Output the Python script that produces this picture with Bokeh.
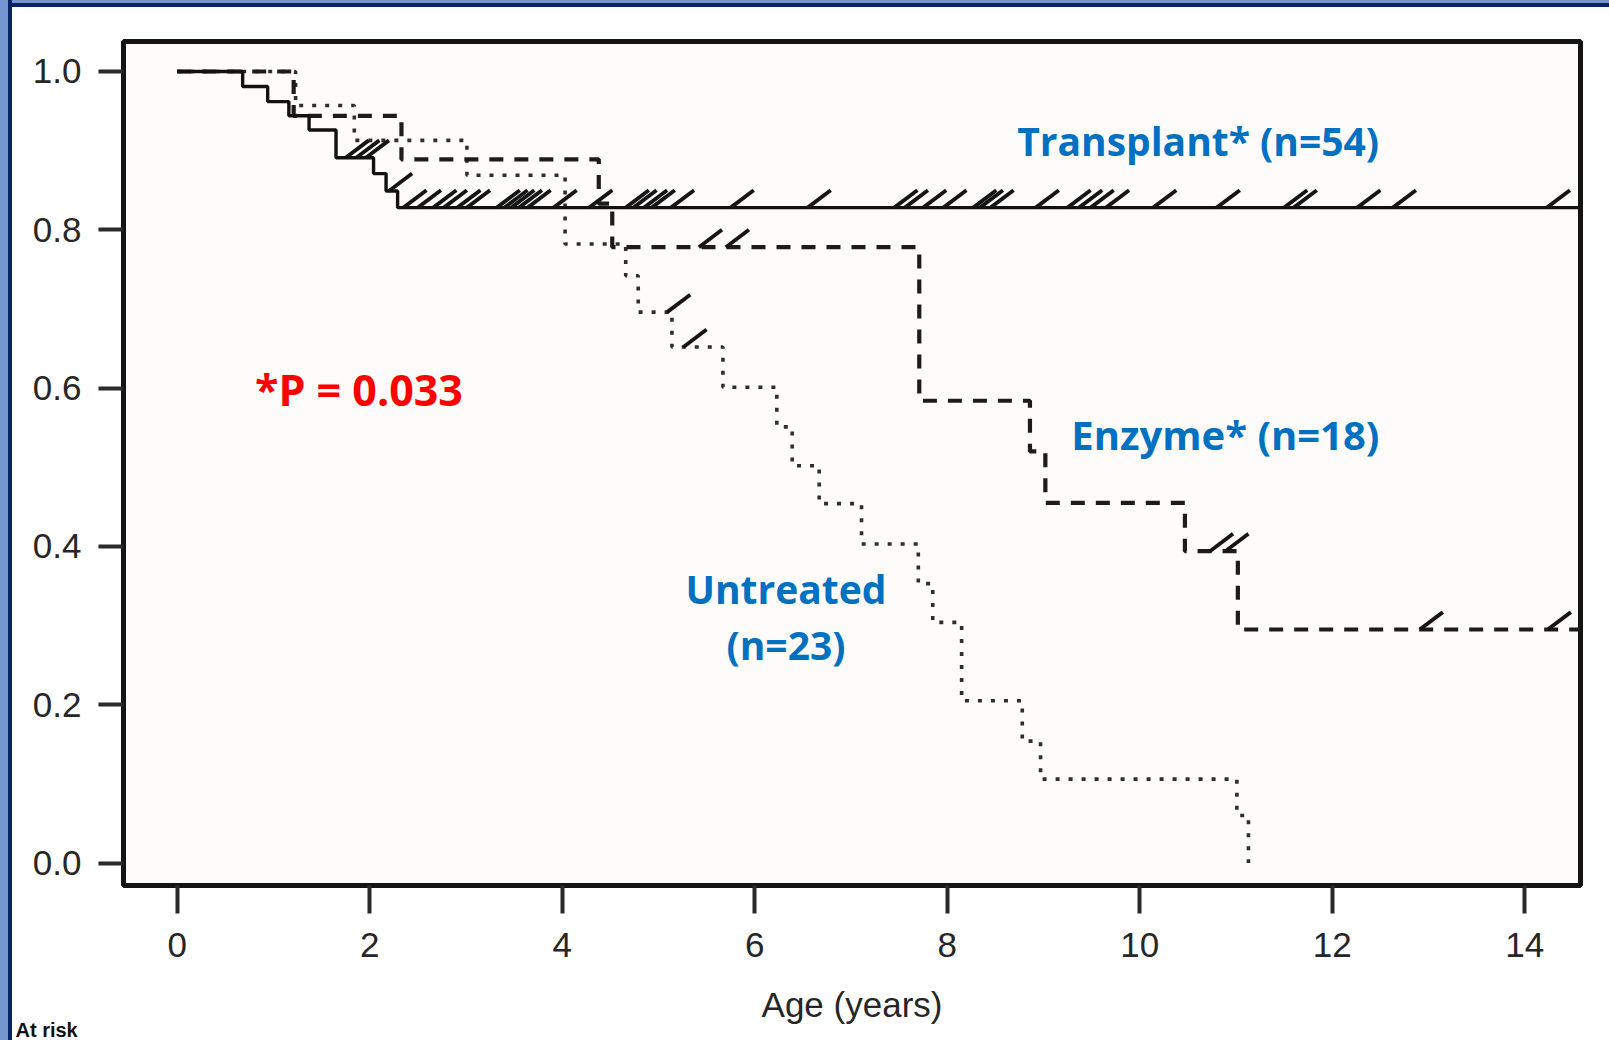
import numpy as np
from bokeh.plotting import figure
from bokeh.models import (Range1d, FixedTicker, Label, Title, InlineStyleSheet,
                          PrintfTickFormatter)
from bokeh.embed import file_html
from bokeh.resources import INLINE

# ---------------- data ----------------
x_ticks = [0, 2, 4, 6, 8, 10, 12, 14]
y_ticks = [0.0, 0.2, 0.4, 0.6, 0.8, 1.0]

transplant_t = [0, 0.68, 0.94, 1.16, 1.37, 1.65, 2.04, 2.17, 2.29, 14.6]
transplant_s = [1.0, 0.981, 0.962, 0.944, 0.926, 0.891, 0.871, 0.849, 0.828, 0.828]
transplant_cens = [1.75, 1.86, 1.96, 2.20, 2.35, 2.50, 2.66, 2.77, 2.91, 3.01,
                   3.32, 3.40, 3.47, 3.55, 3.64, 3.91, 4.28, 4.66, 4.74, 4.85,
                   4.93, 5.13, 5.75, 6.55, 7.45, 7.56, 7.75, 7.96, 8.27, 8.34,
                   8.45, 8.92, 9.25, 9.37, 9.49, 9.65, 10.14, 10.80, 11.50, 11.60,
                   12.26, 12.63, 14.23]

enzyme_t = [0, 1.21, 2.33, 4.38, 4.52, 7.71, 8.86, 9.02, 10.47, 11.02, 14.6]
enzyme_s = [1.0, 0.944, 0.889, 0.833, 0.778, 0.584, 0.520, 0.455, 0.394, 0.295, 0.295]
enzyme_cens = [5.42, 5.70, 10.73, 10.89, 12.91, 14.24]

untreated_t = [0, 1.23, 1.84, 3.01, 4.03, 4.66, 4.79, 5.14, 5.67, 6.23, 6.39,
               6.67, 7.11, 7.70, 7.85, 8.15, 8.78, 8.97, 11.01, 11.13]
untreated_s = [1.0, 0.957, 0.913, 0.869, 0.782, 0.742, 0.696, 0.652, 0.601, 0.551,
               0.502, 0.454, 0.403, 0.353, 0.304, 0.205, 0.154, 0.106, 0.06, 0.0]
untreated_cens = [5.09, 5.26]

group_labels = ["Transplant* (n=54)", "Enzyme* (n=18)", "Untreated", "(n=23)"]
p_value_text = "*P = 0.033"
x_title = "Age (years)"
at_risk_text = "At risk"

# ---------------- figure ----------------
p = figure(width=1609, height=1040, output_backend="svg", toolbar_location=None,
           x_range=Range1d(-0.558, 14.58), y_range=Range1d(-0.0284, 1.0379),
           min_border_left=123, min_border_right=29, min_border_top=41,
           min_border_bottom=155,
           background_fill_color="#fdfcfa", border_fill_color="#ffffff",
           border_fill_alpha=0.0)

p.stylesheets = [InlineStyleSheet(css=""":host {
  background:
    linear-gradient(to right, #7696d2 0px, #7696d2 8px, #0a2364 8px, #0a2364 12px, rgba(0,0,0,0) 12px),
    linear-gradient(to bottom, #7696d2 0px, #7696d2 3px, #0a2364 3px, #0a2364 7px, #ffffff 7px);
}""")]

p.grid.visible = False
p.outline_line_color = "#141414"
p.outline_line_width = 5

for ax in (p.xaxis, p.yaxis):
    ax.axis_line_color = None
    ax.minor_tick_line_color = None
    ax.major_tick_in = 0
    ax.major_tick_line_width = 4
    ax.major_tick_line_color = "#2a2a2a"
    ax.major_label_text_font = "Liberation Sans"
    ax.major_label_text_font_size = "35px"
    ax.major_label_text_color = "#262626"

p.xaxis.ticker = FixedTicker(ticks=x_ticks)
p.xaxis.major_tick_out = 28
p.xaxis.major_label_standoff = 19
p.xaxis.axis_label = x_title
p.xaxis.axis_label_text_font = "Liberation Sans"
p.xaxis.axis_label_text_font_size = "35px"
p.xaxis.axis_label_text_font_style = "normal"
p.xaxis.axis_label_text_color = "#262626"
p.xaxis.axis_label_standoff = 25

p.yaxis.ticker = FixedTicker(ticks=y_ticks)
p.yaxis.formatter = PrintfTickFormatter(format="%.1f")
p.yaxis.major_tick_out = 25
p.yaxis.major_label_standoff = 17


def level_at(times, surv, t):
    i = np.searchsorted(np.asarray(times), np.asarray(t), side="right") - 1
    return np.asarray(surv)[i]


dx, dy = 0.24, 0.022


def draw(times, surv, cens, color, width, dash):
    p.step(x=times, y=surv, mode="after", line_color=color, line_width=width,
           line_dash=dash)
    c = np.asarray(cens)
    lv = level_at(times, surv, c)
    p.segment(x0=c, y0=lv, x1=c + dx, y1=lv + dy, line_color="#151515",
              line_width=3.8)


draw(untreated_t, untreated_s, untreated_cens, "#2e2e2e", 3.6, "4 9")
draw(enzyme_t, enzyme_s, enzyme_cens, "#1c1c1c", 4.2, "14 11")
draw(transplant_t, transplant_s, transplant_cens, "#111111", 3.4, "solid")

blue = "#0070c0"
up = 0.0207
common = dict(text_font="Open Sans", text_font_style="bold", text_baseline="alphabetic")
p.add_layout(Label(x=8.727, y=0.8917 + up, text=group_labels[0], text_align="left",
                   text_font_size="39px", text_color=blue, **common))
p.add_layout(Label(x=9.29, y=0.5212 + up, text=group_labels[1], text_align="left",
                   text_font_size="40px", text_color=blue, **common))
p.add_layout(Label(x=6.325, y=0.3266 + up, text=group_labels[2], text_align="center",
                   text_font_size="39px", text_color=blue, **common))
p.add_layout(Label(x=6.325, y=0.2558 + up, text=group_labels[3], text_align="center",
                   text_font_size="39px", text_color=blue, **common))
p.add_layout(Label(x=0.808, y=0.578 + up, text=p_value_text, text_align="left",
                   text_font_size="43px", text_color="#ff0000", **common))

# "At risk" (bottom-left corner, outside the frame) as a below-panel title
p.add_layout(Title(text=at_risk_text, align="left", offset=-108, standoff=-20,
                   vertical_align="bottom", text_font="Liberation Sans",
                   text_font_size="20px", text_font_style="bold",
                   text_color="#111111"), "below")

open("out.html", "w").write(file_html(p, INLINE))
